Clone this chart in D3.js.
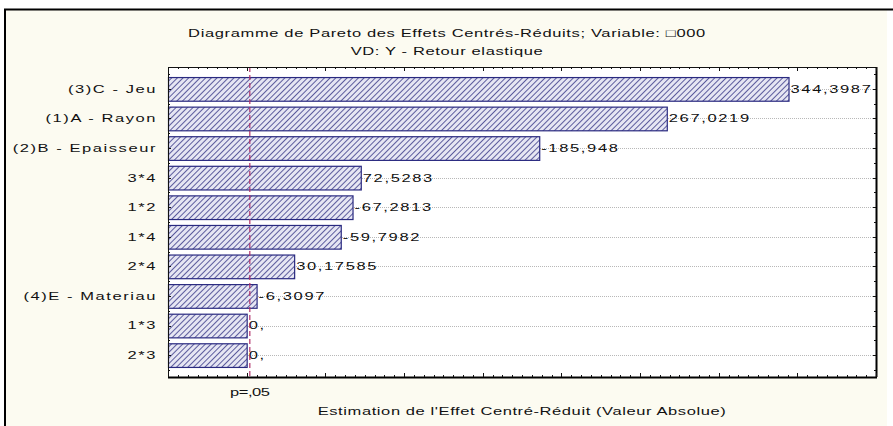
<!DOCTYPE html>
<html>
<head>
<meta charset="utf-8">
<script src="https://cdn.jsdelivr.net/npm/d3@7"></script>
<style>
  html, body { margin: 0; padding: 0; background: #ffffff; }
  svg { display: block; }
  text { font-family: "Liberation Sans", Arial, sans-serif; fill: #111; }
</style>
</head>
<body>
<svg id="chart" width="893" height="426"></svg>
<script>
// Pareto chart of standardized effects
const effects = ["(3)C - Jeu", "(1)A - Rayon", "(2)B - Epaisseur", "3*4", "1*2", "1*4", "2*4", "(4)E - Materiau", "1*3", "2*3"];
const effectValues = [344.3987, 267.0219, -185.948, 72.5283, -67.2813, -59.7982, 30.17585, -6.3097, 0, 0];
const effectLabels = ["344,3987", "267,0219", "-185,948", "72,5283", "-67,2813", "-59,7982", "30,17585", "-6,3097", "0,", "0,"];
const xDomain = [-50, 400];
const majorTicks = [-50, 0, 50, 100, 150, 200, 250, 300, 350, 400];
const pCritical = 2.0;
const pLabel = "p=,05";
const titleLines = ["Diagramme de Pareto des Effets Centrés-Réduits; Variable: \u25A1000", "VD: Y - Retour elastique"];
const xTitle = "Estimation de l'Effet Centré-Réduit (Valeur Absolue)";

const svg = d3.select("#chart");
const plot = { left: 168, right: 876, top: 67, bottom: 377 };
const SX = 1.5;       // horizontal stretch of the text glyphs
const FS = 11;

// stretched text helper
function label(g, x, y, txt, anchor, spacing) {
  return g.append("text")
    .attr("transform", `translate(${x},${y}) scale(${SX},1)`)
    .attr("text-anchor", anchor || "start")
    .attr("dominant-baseline", "central")
    .style("font-size", FS + "px")
    .style("letter-spacing", (spacing || 0) + "px")
    .text(txt);
}

// window frame
svg.append("rect").attr("x", 5).attr("y", 9).attr("width", 882).attr("height", 420)
  .attr("fill", "#fcfbf1");
svg.append("line").attr("x1", 4).attr("x2", 893).attr("y1", 9.5).attr("y2", 9.5)
  .attr("stroke", "#000").attr("stroke-width", 2);
svg.append("line").attr("x1", 5).attr("x2", 5).attr("y1", 9).attr("y2", 426)
  .attr("stroke", "#000").attr("stroke-width", 2);

// hatch pattern for bars
const defs = svg.append("defs");
const pat = defs.append("pattern").attr("id", "hatch")
  .attr("patternUnits", "userSpaceOnUse").attr("width", 4).attr("height", 4)
  .attr("patternTransform", "rotate(45)");
pat.append("rect").attr("width", 4).attr("height", 4).attr("fill", "#e6e6f3");
pat.append("line").attr("x1", 0).attr("x2", 0).attr("y1", 0).attr("y2", 4)
  .attr("stroke", "#2e2e80").attr("stroke-width", 1.5);

const x = d3.scaleLinear().domain(xDomain).range([plot.left, plot.right]);
const y = d3.scaleBand().domain(effects).range([plot.top, plot.bottom])
  .paddingInner(0.2).paddingOuter(0.34);

// plot background
svg.append("rect").attr("x", plot.left).attr("y", plot.top)
  .attr("width", plot.right - plot.left).attr("height", plot.bottom - plot.top)
  .attr("fill", "#ffffff");

// dotted guide lines at each effect
svg.append("g").selectAll("line").data(effects).join("line")
  .attr("x1", plot.left).attr("x2", plot.right)
  .attr("y1", d => Math.round(y(d) + y.bandwidth() / 2) + 0.5)
  .attr("y2", d => Math.round(y(d) + y.bandwidth() / 2) + 0.5)
  .attr("stroke", "#b8b8b8").attr("stroke-width", 1).attr("stroke-dasharray", "1,1");

// bars (absolute value of the effect)
svg.append("g").selectAll("rect").data(effects).join("rect")
  .attr("x", plot.left + 0.5)
  .attr("y", d => y(d) + 0.5)
  .attr("width", (d, i) => x(Math.abs(effectValues[i])) - plot.left)
  .attr("height", y.bandwidth())
  .attr("fill", "url(#hatch)")
  .attr("stroke", "#2a2a80").attr("stroke-width", 1.2);

// value labels
const vl = svg.append("g");
effects.forEach((d, i) => {
  label(vl, x(Math.abs(effectValues[i])) + 2, y(d) + y.bandwidth() / 2, effectLabels[i], "start", 1.1);
});

// significance threshold line
svg.append("line")
  .attr("x1", x(pCritical)).attr("x2", x(pCritical))
  .attr("y1", plot.top).attr("y2", plot.bottom)
  .attr("stroke", "#b0306a").attr("stroke-width", 1.2).attr("stroke-dasharray", "5,3");

// plot frame
svg.append("rect").attr("x", plot.left + 0.5).attr("y", plot.top + 0.5)
  .attr("width", plot.right - plot.left).attr("height", plot.bottom - plot.top)
  .attr("fill", "none").attr("stroke", "#111").attr("stroke-width", 1);
svg.append("line").attr("x1", plot.left).attr("x2", plot.right + 1)
  .attr("y1", plot.bottom + 0.5).attr("y2", plot.bottom + 0.5)
  .attr("stroke", "#000").attr("stroke-width", 2);
svg.append("line").attr("x1", plot.right + 0.5).attr("x2", plot.right + 0.5)
  .attr("y1", plot.top).attr("y2", plot.bottom)
  .attr("stroke", "#000").attr("stroke-width", 2);

// x ticks: majors every 50, 8 minor steps between
const minorStep = 50 / 8;
const minorTicks = d3.range(xDomain[0], xDomain[1] + 0.01, minorStep);
const tickG = svg.append("g").attr("stroke", "#111");
minorTicks.forEach(v => {
  const isMajor = majorTicks.some(m => Math.abs(m - v) < 1e-6);
  const len = isMajor ? 4 : 2;
  const px = Math.round(x(v)) + 0.5;
  tickG.append("line").attr("x1", px).attr("x2", px).attr("y1", plot.top).attr("y2", plot.top + len);
  tickG.append("line").attr("x1", px).attr("x2", px).attr("y1", plot.bottom - len).attr("y2", plot.bottom);
});

// y ticks at effect centers and band boundaries
const yTicks = [];
effects.forEach(d => {
  yTicks.push({ v: y(d) + y.bandwidth() / 2, major: true });
  yTicks.push({ v: y(d) - y.step() * y.paddingInner() / 2, major: false });
});
yTicks.push({ v: y(effects[effects.length - 1]) + y.bandwidth() + y.step() * y.paddingInner() / 2, major: false });
yTicks.forEach(t => {
  const py = Math.round(t.v) + 0.5;
  const len = t.major ? 3 : 2;
  tickG.append("line").attr("x1", plot.left).attr("x2", plot.left + len).attr("y1", py).attr("y2", py);
  tickG.append("line").attr("x1", plot.right - len).attr("x2", plot.right).attr("y1", py).attr("y2", py);
});

// category labels
const cl = svg.append("g");
effects.forEach(d => label(cl, 157, y(d) + y.bandwidth() / 2, d, "end", 1.05));

// titles
label(svg, 447, 33, titleLines[0], "middle", 0.43);
label(svg, 447, 51, titleLines[1], "middle", 0.43);
label(svg, x(pCritical), 392, pLabel, "middle", -0.3);
label(svg, (plot.left + plot.right) / 2, 411, xTitle, "middle", 0.4);
</script>
</body>
</html>
